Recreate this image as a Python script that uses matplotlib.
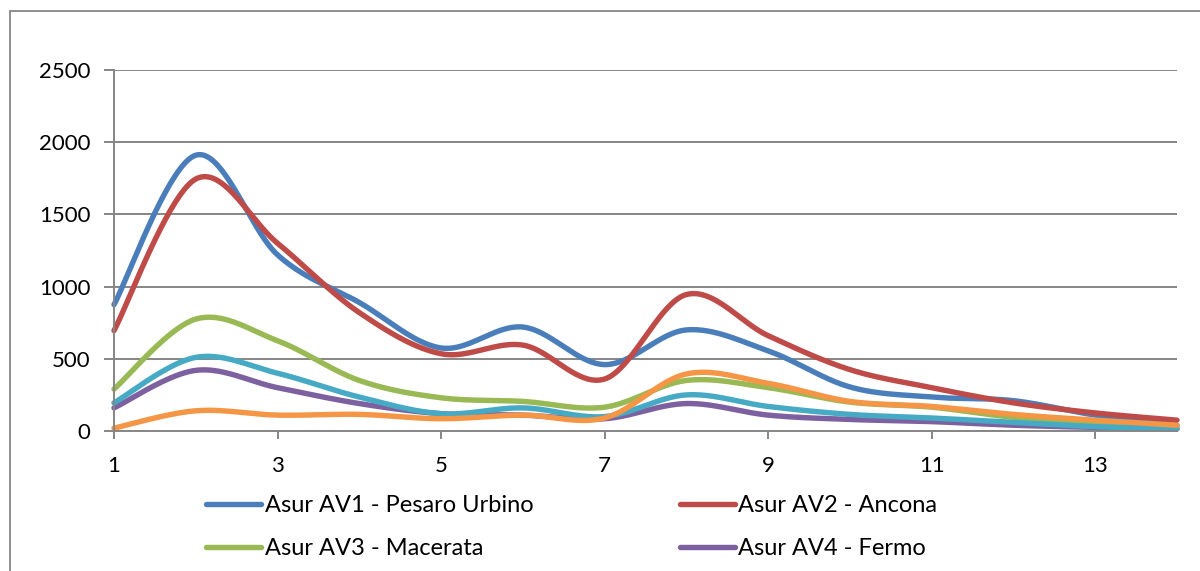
import numpy as np
import matplotlib
matplotlib.use("Agg")
import matplotlib.pyplot as plt
from matplotlib.patches import Rectangle

plt.rcParams['font.family'] = ['Lato', 'DejaVu Sans']

x = np.arange(1, 15)

av1 = [875, 1910, 1220, 890, 575, 720, 460, 700, 555, 305, 235, 210, 110, 40]
av2 = [695, 1745, 1300, 820, 535, 595, 360, 945, 660, 425, 300, 195, 125, 75]
av3 = [290, 775, 625, 350, 230, 205, 165, 350, 300, 200, 165, 95, 60, 30]
av4 = [160, 420, 300, 190, 120, 110, 85, 190, 110, 80, 65, 40, 25, 15]
av5 = [195, 510, 400, 235, 120, 160, 100, 250, 170, 115, 90, 60, 30, 15]
av6 = [20, 140, 110, 115, 85, 110, 90, 395, 330, 205, 170, 115, 75, 40]

names = ["Asur AV1 - Pesaro Urbino", "Asur AV2 - Ancona",
         "Asur AV3 - Macerata", "Asur AV4 - Fermo",
         "Asur AV5 - Ascoli Piceno", "Aziende Ospedaliere"]
colors = ["#4A7EBB", "#BE4B48", "#98B954", "#7D60A0", "#46AAC5", "#F59647"]
series = [av1, av2, av3, av4, av5, av6]


# smooth line like excel (bezier with catmull-rom control points)
def smooth(xs, ys, n=40):
    xs = np.asarray(xs, float)
    ys = np.asarray(ys, float)
    px = np.concatenate([[xs[0]], xs, [xs[-1]]])
    py = np.concatenate([[ys[0]], ys, [ys[-1]]])
    t = np.linspace(0, 1, n)
    outx, outy = [], []
    for i in range(1, len(px) - 2):
        p0 = np.array([px[i], py[i]])
        p3 = np.array([px[i + 1], py[i + 1]])
        c1 = p0 + (p3 - np.array([px[i - 1], py[i - 1]])) / 6
        c2 = p3 - (np.array([px[i + 2], py[i + 2]]) - p0) / 6
        b = ((1 - t) ** 3)[:, None] * p0 + (3 * (1 - t) ** 2 * t)[:, None] * c1 \
            + (3 * (1 - t) * t ** 2)[:, None] * c2 + (t ** 3)[:, None] * p3
        outx.extend(b[:, 0])
        outy.extend(b[:, 1])
    return np.array(outx), np.array(outy)


fig = plt.figure(figsize=(12, 5.71), dpi=100)
ax = fig.add_axes([114 / 1200, 1 - 431 / 571, (1177 - 114) / 1200, (431 - 70) / 571])

# outer chart border (cropped at right/bottom)
fig.patches.append(Rectangle((9.5 / 1200, -0.1), 1.2, 1 - 11 / 571 + 0.1,
                             transform=fig.transFigure, fill=False,
                             edgecolor="#868686", lw=1.3))

lines = []
for ys, c, nm in zip(series, colors, names):
    sx, sy = smooth(x, ys)
    ln, = ax.plot(sx, sy, color=c, lw=3.9, solid_capstyle='round', label=nm, clip_on=False)
    lines.append(ln)

ax.set_xlim(1, 14)
ax.set_ylim(0, 2500)
ax.set_xticks([1, 3, 5, 7, 9, 11, 13])
ax.set_yticks([0, 500, 1000, 1500, 2000, 2500])
ax.grid(axis='y', color="#868686", lw=1.4)
ax.set_axisbelow(True)
for s in ['top', 'right']:
    ax.spines[s].set_visible(False)
for s in ['left', 'bottom']:
    ax.spines[s].set_color("#868686")
    ax.spines[s].set_linewidth(1.4)
ax.tick_params(axis='x', length=6, width=1.4, color="#868686", pad=12, labelsize=16)
ax.tick_params(axis='y', length=7, width=1.4, color="#868686", pad=10, labelsize=16)

# legend is row-wise in the original; only the first two rows fit in the picture
order = [0, 2, 1, 3]
leg = ax.legend([lines[i] for i in order], [names[i] for i in order],
                loc='upper left', bbox_to_anchor=(206 / 1200, 1 - 495 / 571),
                bbox_transform=fig.transFigure, ncol=2, frameon=False,
                fontsize=17, handlelength=2.35, handletextpad=0.13,
                columnspacing=6.2, labelspacing=0.95, borderpad=0, borderaxespad=0)

fig.savefig("out.png", dpi=100)
